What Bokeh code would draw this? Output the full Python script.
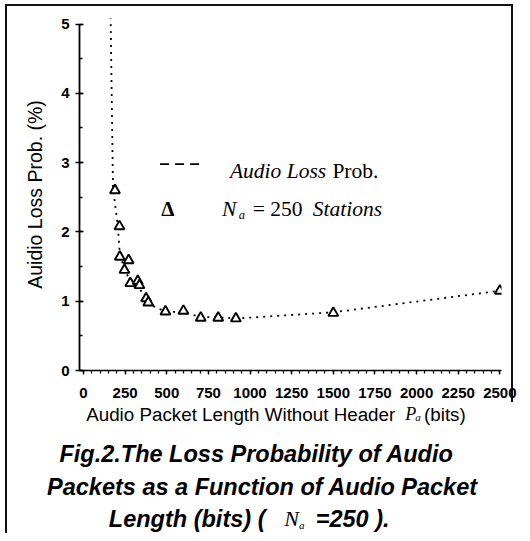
from bokeh.plotting import figure
from bokeh.layouts import column
from bokeh.models import Range1d, Label, Arrow, SingleIntervalTicker
from bokeh.embed import file_html
from bokeh.resources import INLINE

# ---------------- data ----------------
packet_len = [189, 216, 218, 246, 271, 281, 326, 336, 376, 389, 492, 600, 704, 809, 915, 1500, 2500]
loss_pct = [2.60, 2.08, 1.64, 1.45, 1.59, 1.26, 1.29, 1.23, 1.04, 0.98, 0.85, 0.86, 0.76, 0.76, 0.75, 0.83, 1.15]

curve_len = [163, 177, 206, 218, 248, 283, 336, 378, 401, 490, 602, 703, 809, 915, 1500, 2500]
curve_pct = [5.10, 2.64, 2.09, 1.68, 1.45, 1.28, 1.18, 1.04, 0.95, 0.85, 0.84, 0.77, 0.77, 0.75, 0.84, 1.15]

x_tick_step = 250
y_tick_step = 1

y_axis_title = "Auidio Loss Prob. (%)"
x_axis_title = "Audio Packet Length Without Header"
x_axis_sym = "P"
x_axis_sub = "a"
x_axis_unit = "(bits)"
legend_line_a = "Audio Loss"
legend_line_b = "Prob."
legend_pts_sym = "\u0394"
legend_pts_n = "N"
legend_pts_sub = "a"
legend_pts_eq = "= 250"
legend_pts_txt = "Stations"
caption_1 = "Fig.2.The Loss Probability of Audio"
caption_2 = "Packets as a Function of Audio Packet"
caption_3a = "Length (bits) ("
caption_3n = "N"
caption_3s = "a"
caption_3b = "=250 )."

# ---------------- geometry ----------------
W = 522
H_TOTAL = 533
SX, SY = W / 530.0, H_TOTAL / 541.0   # reference pixel -> canvas pixel

H1 = 402
H2 = H_TOTAL - H1
LEFT, RIGHT, TOP, BOTTOM = 79, 21, 18, 32
X0, X1 = -24, 2510
Y0, Y1 = 0, 5.08
FW = W - LEFT - RIGHT
FH = H1 - TOP - BOTTOM

SANS = "Liberation Sans"
SERIF = "Liberation Serif"


def mx(rx):
    return X0 + (rx * SX - LEFT) / FW * (X1 - X0)


def my(ry):
    return Y0 + (TOP + FH - ry * SY) / FH * (Y1 - Y0)


def cxp(rx):
    return rx * SX


def cyp(ry):
    return H2 - (ry * SY - H1)


# ---------------- main plot ----------------
p = figure(width=W, height=H1, output_backend="svg", toolbar_location=None,
           x_range=Range1d(X0, X1), y_range=Range1d(Y0, Y1),
           min_border_left=LEFT, min_border_right=RIGHT,
           min_border_top=TOP, min_border_bottom=BOTTOM, title=None)
p.frame_align = False
p.border_fill_color = None
p.background_fill_color = "white"
p.outline_line_color = None
p.grid.visible = False
p.styles = {"box-shadow": "inset 5px 4px 0 0 #fff, inset -9px 0 0 0 #fff, "
                          "inset 7px 6px 0 0 #111, inset -11px 0 0 0 #111"}

xa = p.xaxis[0]
xa.ticker = SingleIntervalTicker(interval=x_tick_step, num_minor_ticks=5)
xa.axis_line_width = 1.6
xa.major_tick_in = 0
xa.major_tick_out = 4
xa.minor_tick_in = 0
xa.minor_tick_out = 3
xa.major_tick_line_width = 1.3
xa.minor_tick_line_width = 1.3
xa.major_label_text_font = SANS
xa.major_label_text_font_style = "bold"
xa.major_label_text_font_size = "15px"
xa.major_label_text_color = "black"
xa.major_label_standoff = 13

ya = p.yaxis[0]
ya.ticker = SingleIntervalTicker(interval=y_tick_step, num_minor_ticks=2)
ya.bounds = (0, 5)
ya.axis_line_width = 1.8
ya.major_tick_in = 4
ya.major_tick_out = 4
ya.minor_tick_in = 3
ya.minor_tick_out = 0
ya.major_tick_line_width = 1.3
ya.minor_tick_line_width = 1.3
ya.major_label_text_font = SANS
ya.major_label_text_font_style = "bold"
ya.major_label_text_font_size = "15px"
ya.major_label_text_color = "black"
ya.major_label_standoff = 6
ya.axis_label = y_axis_title
ya.axis_label_text_font = SANS
ya.axis_label_text_font_style = "normal"
ya.axis_label_text_font_size = "19.5px"
ya.axis_label_text_color = "black"
ya.axis_label_standoff = 12

p.line(curve_len, curve_pct, line_color="black", line_width=1.8, line_dash="2 5")
p.scatter(packet_len, loss_pct, marker="triangle", size=10, line_color="black",
          line_width=1.9, fill_color="white")


def lab(fig, text, x, y, font=SANS, size=18, style="normal", align="left"):
    fig.add_layout(Label(x=x, y=y, text=text, text_font=font,
                         text_font_size=f"{size}px", text_font_style=style,
                         text_align=align, text_baseline="alphabetic",
                         text_color="black"))


# legend inside the frame
p.add_layout(Arrow(start=None, end=None, x_start=mx(162), y_start=my(166),
                   x_end=mx(203), y_end=my(166), line_color="black",
                   line_width=1.8, line_dash="9 6"))
lab(p, legend_line_a, mx(233), my(173), SERIF, 21.5, "italic")
lab(p, legend_line_b, mx(337), my(173), SERIF, 21.5, "normal")
lab(p, legend_pts_sym, mx(170), my(212), SERIF, 21, "bold", "center")
lab(p, legend_pts_n, mx(225), my(212), SERIF, 21.5, "italic")
lab(p, legend_pts_sub, mx(242), my(218), SERIF, 12.5, "italic")
lab(p, legend_pts_eq, mx(256), my(212), SERIF, 21.5, "normal")
lab(p, legend_pts_txt, mx(317), my(212), SERIF, 21.5, "italic")

# ---------------- caption area (frame == canvas, pixel coordinates) -------
c = figure(width=W, height=H2, output_backend="svg", toolbar_location=None,
           x_range=Range1d(0, W), y_range=Range1d(0, H2),
           min_border=0, title=None, x_axis_type=None, y_axis_type=None)
c.frame_align = False
c.border_fill_color = None
c.background_fill_color = None
c.outline_line_color = None
c.grid.visible = False
c.styles = {"box-shadow": "inset 5px 0 0 0 #fff, inset 7px 0 0 0 #111"}

lab(c, x_axis_title, cxp(87), cyp(420), SANS, 18.8, "normal")
lab(c, x_axis_sym, cxp(411), cyp(420), SERIF, 18, "italic")
lab(c, x_axis_sub, cxp(421), cyp(423), SERIF, 11, "italic")
lab(c, x_axis_unit, cxp(430), cyp(420), SANS, 18.8, "normal")

lab(c, caption_1, cxp(260), cyp(460), SANS, 23.5, "bold italic", "center")
lab(c, caption_2, cxp(266), cyp(494), SANS, 23.5, "bold italic", "center")
lab(c, caption_3a, cxp(110), cyp(526), SANS, 23.5, "bold italic")
lab(c, caption_3n, cxp(288), cyp(526), SERIF, 22, "italic")
lab(c, caption_3s, cxp(303), cyp(532), SERIF, 11, "italic")
lab(c, caption_3b, cxp(320), cyp(526), SANS, 23.5, "bold italic")

layout = column(p, c, spacing=0)
open("out.html", "w").write(file_html(layout, INLINE))
